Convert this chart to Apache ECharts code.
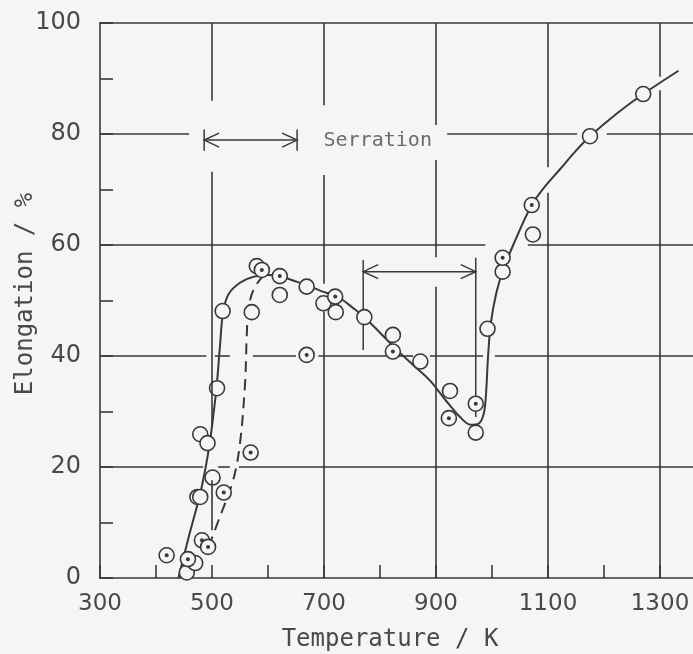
<!DOCTYPE html>
<html><head><meta charset="utf-8">
<script src="https://cdn.jsdelivr.net/npm/echarts@6/dist/echarts.min.js"></script>
<style>html,body{margin:0;padding:0;background:#f5f5f4}#c{width:693px;height:654px}</style>
</head><body><div id="c"></div>
<script>
// ---- data (Temperature K, Elongation %) ----
const openX = [455, 470, 474, 479, 479, 492, 501, 509, 519, 571, 580, 621, 669, 699, 721, 772, 823, 872, 925, 971, 992, 1019, 1073, 1175, 1270];
const openY = [1.0, 2.7, 14.6, 14.6, 25.9, 24.3, 18.1, 34.2, 48.1, 47.9, 56.2, 51.0, 52.5, 49.5, 47.9, 47.0, 43.8, 39.0, 33.7, 26.2, 44.9, 55.2, 61.9, 79.6, 87.2];
const dotX = [419, 457, 482, 493, 521, 569, 589, 621, 669, 720, 823, 923, 971, 1019, 1071];
const dotY = [4.1, 3.4, 6.8, 5.6, 15.4, 22.6, 55.5, 54.4, 40.2, 50.7, 40.8, 28.8, 31.4, 57.7, 67.2];
const solidX = [440, 460, 478, 488, 496, 502, 508, 514, 520, 530, 550, 575, 600, 621, 645, 668, 695, 716, 729, 750, 772, 800, 830, 860, 889, 919, 943, 962, 976, 985, 989, 993, 998, 1008, 1020, 1040, 1071, 1095, 1121, 1150, 1175, 1223, 1270, 1333];
const solidY = [0, 8.0, 14.8, 19.6, 24.3, 29.0, 34.2, 41.5, 48.0, 51.2, 53.2, 54.3, 54.6, 54.4, 53.6, 52.8, 51.7, 51.0, 50.4, 48.8, 47.0, 44.2, 41.1, 38.3, 35.6, 31.8, 29.0, 27.6, 27.8, 29.5, 32.7, 40.0, 46.0, 51.5, 55.5, 60.5, 67.2, 70.6, 73.6, 77.0, 79.6, 83.7, 87.2, 91.4];
const dashX = [494, 514, 538, 550, 559, 562, 565, 574, 592, 605];
const dashY = [5.6, 11.0, 17.7, 24.3, 35.0, 43.5, 48.3, 51.9, 54.4, 54.7];
// axis ticks
const xMin = 300, xMax = 1400, xStep = 100, xLabelEvery = 200;
const yMin = 0, yMax = 100, yStep = 10, yLabelEvery = 20;
// gridlines (broken as in the original)
const vGrid = [[500, [[100, 86], [73.2, 27.2], [17.6, 8.6]]], [700, [[100, 85.2], [72.6, 53.0], [48, 0]]], [900, [[100, 81.6], [75.3, 57.8], [52.5, 0]]], [1100, [[100, 74], [69.4, 0]]], [1300, [[100, 90.3], [87.9, 0]]]];
const hGrid = [[80, [[300, 459], [920, 1152], [1205, 1400]]], [60, [[300, 988], [1064, 1400]]], [40, [[300, 490], [505, 532], [573, 650], [690, 812], [832, 859], [889, 984], [1005, 1400]]], [20, [[300, 484], [511, 532], [548, 1400]]]];
// serration ranges: [x1, x2, y, leftBarTop, leftBarBottom, rightBarTop, rightBarBottom]
const arrows = [[486, 652, 78.9, 80.8, 77.0, 80.8, 77.0], [770, 971, 55.2, 57.3, 41.1, 57.7, 29.0]];
const serrationLabel = [[796, 78.7, 'Serration']];

const INK = '#3c3738', TXT = '#4a4848', BG = '#f5f5f4';
const zip = (a, b) => a.map((v, i) => [v, b[i]]);
const segs = [];
vGrid.forEach(([x, list]) => list.forEach(([a, b]) => segs.push([{ coord: [x, a] }, { coord: [x, b] }])));
hGrid.forEach(([y, list]) => list.forEach(([a, b]) => segs.push([{ coord: [a, y] }, { coord: [b, y] }])));

const chart = echarts.init(document.getElementById('c'), null, { renderer: 'canvas' });
const lineSt = { color: INK, width: 1.6 };
chart.setOption({
  backgroundColor: BG,
  animation: false,
  grid: { left: 100, top: 23, width: 616, height: 555, containLabel: false, outerBoundsMode: 'none' },
  xAxis: [{
    type: 'value', min: xMin, max: xMax, interval: xStep,
    axisLine: { show: true, onZero: false, lineStyle: lineSt },
    axisTick: { show: true, inside: true, length: 13, lineStyle: lineSt },
    axisLabel: { margin: 15, fontSize: 23, color: TXT, fontFamily: 'DejaVu Sans', hideOverlap: false,
      formatter: v => ((v - xMin) % xLabelEvery === 0 && v < xMax) ? String(v) : '' },
    splitLine: { show: false }
  }, {
    type: 'value', position: 'top', min: xMin, max: xMax,
    axisLine: { show: true, onZero: false, lineStyle: lineSt },
    axisTick: { show: false }, axisLabel: { show: false }, splitLine: { show: false }
  }],
  yAxis: {
    type: 'value', min: yMin, max: yMax, interval: yStep,
    axisLine: { show: true, onZero: false, lineStyle: lineSt },
    axisTick: { show: true, inside: true, length: 13, lineStyle: lineSt },
    axisLabel: { margin: 19, fontSize: 24, color: TXT, fontFamily: 'DejaVu Sans',
      formatter: v => (v % yLabelEvery === 0) ? String(v) : '' },
    splitLine: { show: false }
  },
  graphic: [
    { type: 'text', x: 390, y: 640, style: { text: 'Temperature / K', font: '24px "DejaVu Sans Mono"', fill: TXT, align: 'center', verticalAlign: 'middle' } },
    { type: 'text', x: 26, y: 294, rotation: Math.PI / 2, style: { text: 'Elongation / %', font: '24px "DejaVu Sans Mono"', fill: TXT, align: 'center', verticalAlign: 'middle' } }
  ],
  series: [
    { type: 'line', data: [], silent: true, z: 1,
      markLine: { silent: true, symbol: 'none', label: { show: false }, lineStyle: { color: INK, width: 1.6, type: 'solid' }, data: segs } },
    { type: 'line', data: zip(solidX, solidY), smooth: 0.35, showSymbol: false, z: 3,
      lineStyle: { color: INK, width: 2 } },
    { type: 'line', data: zip(dashX, dashY), smooth: 0.35, showSymbol: false, z: 3,
      lineStyle: { color: INK, width: 2, type: [11, 7] } },
    { type: 'scatter', data: zip(openX, openY), symbol: 'circle', symbolSize: 15, z: 4,
      itemStyle: { color: BG, borderColor: INK, borderWidth: 1.6, opacity: 1 } },
    { type: 'scatter', data: zip(dotX, dotY), symbol: 'circle', symbolSize: 15, z: 4,
      itemStyle: { color: BG, borderColor: INK, borderWidth: 1.6, opacity: 1 } },
    { type: 'scatter', data: zip(dotX, dotY), symbol: 'circle', symbolSize: 4, z: 5,
      itemStyle: { color: INK, opacity: 1 } },
    { type: 'custom', data: arrows, z: 3, encode: { x: [0, 1], y: [2, 3, 4, 5, 6] },
      renderItem: (params, api) => {
        const x1 = api.value(0), x2 = api.value(1), y = api.value(2);
        const L = api.coord([x1, y]), R = api.coord([x2, y]);
        const lt = api.coord([x1, api.value(3)]), lb = api.coord([x1, api.value(4)]);
        const rt = api.coord([x2, api.value(5)]), rb = api.coord([x2, api.value(6)]);
        const st = { stroke: INK, lineWidth: 1.5, fill: null };
        const h = 15, w = 7;
        return { type: 'group', children: [
          { type: 'polyline', shape: { points: [L, R] }, style: st },
          { type: 'polyline', shape: { points: [[L[0] + h, L[1] - w], L, [L[0] + h, L[1] + w]] }, style: st },
          { type: 'polyline', shape: { points: [[R[0] - h, R[1] - w], R, [R[0] - h, R[1] + w]] }, style: st },
          { type: 'polyline', shape: { points: [lt, lb] }, style: st },
          { type: 'polyline', shape: { points: [rt, rb] }, style: st }
        ] };
      } },
    { type: 'scatter', data: serrationLabel, symbolSize: 0, z: 5,
      label: { show: true, position: 'inside', formatter: p => p.data[2], fontSize: 20, color: TXT, fontFamily: 'DejaVu Sans Mono' } }
  ]
});
</script></body></html>
